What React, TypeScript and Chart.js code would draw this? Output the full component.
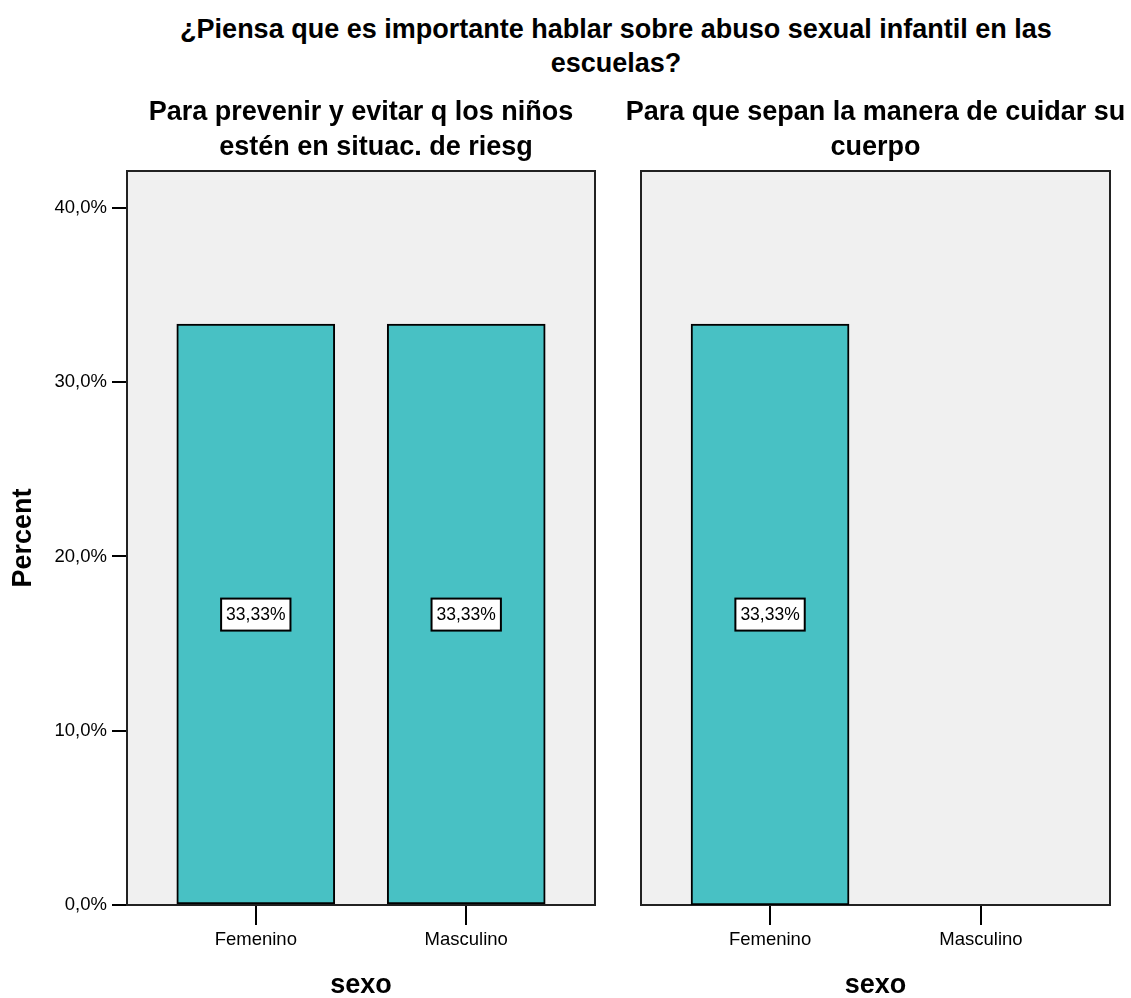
import React, { useEffect, useRef } from 'react';
import { Chart, registerables } from 'chart.js';

Chart.register(...registerables);

// ---- data ----
const mainTitle = ['¿Piensa que es importante hablar sobre abuso sexual infantil en las', 'escuelas?'];
const categories = ['Femenino', 'Masculino'];
const panel1Title = ['Para prevenir y evitar q los niños', '    estén en situac. de riesg'];
const panel2Title = ['Para que sepan la manera de cuidar su', 'cuerpo'];
const panel1Values: (number | null)[] = [33.33, 33.33];
const panel2Values: (number | null)[] = [33.33, null];
const yTicks = [0, 10, 20, 30, 40];
const yAxisTitle = 'Percent';
const xAxisTitle = 'sexo';

const BOLD = "'Liberation Sans', Arial, sans-serif";
const REG = "'Liberation Sans', Arial, sans-serif";
const BAR_COLOR = '#48C1C4';
const PANEL_BG = '#F0F0F0';
const PANEL_BORDER = '#222222';

const fmtPct = (v: number, d: number) => v.toFixed(d).replace('.', ',') + '%';

const panelPlugin = {
  id: 'panelBg',
  beforeDraw(chart: any) {
    const { ctx, chartArea: a } = chart;
    ctx.save();
    ctx.fillStyle = PANEL_BG;
    ctx.fillRect(a.left, a.top, a.right - a.left, a.bottom - a.top);
    ctx.restore();
  },
  beforeDatasetsDraw(chart: any) {
    const { ctx, chartArea: a } = chart;
    ctx.save();
    ctx.strokeStyle = PANEL_BORDER;
    ctx.lineWidth = 2;
    ctx.strokeRect(a.left, a.top, a.right - a.left, a.bottom - a.top);
    ctx.restore();
  },
};

const valueLabelPlugin = {
  id: 'valueLabels',
  afterDatasetsDraw(chart: any) {
    const { ctx } = chart;
    const yScale = chart.scales.y;
    chart.data.datasets.forEach((ds: any, di: number) => {
      const meta = chart.getDatasetMeta(di);
      meta.data.forEach((el: any, i: number) => {
        const raw = ds.data[i];
        const v = raw && raw.y;
        if (v == null) return;
        const text = fmtPct(v, 2);
        ctx.save();
        ctx.font = `17.5px ${REG}`;
        const w = ctx.measureText(text).width;
        const bw = w + 10;
        const bh = 32;
        const cx = el.x;
        const cy = yScale.getPixelForValue(v / 2);
        ctx.fillStyle = '#ffffff';
        ctx.fillRect(cx - bw / 2, cy - bh / 2, bw, bh);
        ctx.strokeStyle = '#000000';
        ctx.lineWidth = 2;
        ctx.strokeRect(cx - bw / 2, cy - bh / 2, bw, bh);
        ctx.fillStyle = '#000000';
        ctx.textAlign = 'center';
        ctx.textBaseline = 'middle';
        ctx.fillText(text, cx, cy + 1);
        ctx.restore();
      });
    });
  },
};

type PanelProps = {
  values: (number | null)[];
  title: string[];
  showY: boolean;
  left: number;
  width: number;
  leftAxisWidth: number;
  rightAxisWidth: number;
};

function Panel({ values, title, showY, left, width, leftAxisWidth, rightAxisWidth }: PanelProps) {
  const ref = useRef<HTMLCanvasElement>(null);
  useEffect(() => {
    if (!ref.current) return;
    const chart = new Chart(ref.current, {
      type: 'bar',
      data: {
        datasets: [
          {
            data: values.map((v, i) => ({ x: i, y: v })) as any,
            backgroundColor: BAR_COLOR,
            borderColor: '#000000',
            borderWidth: 2,
            borderSkipped: false,
            barThickness: 158,
            xAxisID: 'x',
            yAxisID: 'y',
          },
        ],
      },
      options: {
        animation: false,
        responsive: false,
        maintainAspectRatio: false,
        layout: { padding: 0 },
        plugins: {
          legend: { display: false },
          tooltip: { enabled: false },
          title: {
            display: true,
            text: title,
            color: '#000',
            font: { family: BOLD, size: 27, weight: 'bold', lineHeight: 35 / 27 },
            padding: { top: 94.8, bottom: 6.2 },
          },
        },
        scales: {
          x: {
            type: 'linear',
            position: 'bottom',
            min: -0.612,
            max: 1.612,
            offset: false,
            afterBuildTicks: (s: any) => {
              s.ticks = categories.map((_, i) => ({ value: i }));
            },
            afterFit: (s: any) => {
              s.height = 93;
            },
            ticks: {
              callback: (v: any) => categories[v] ?? '',
              color: '#000',
              font: { family: REG, size: 18.5 },
              padding: 4,
              autoSkip: false,
              maxRotation: 0,
              minRotation: 0,
            },
            grid: {
              offset: false,
              drawOnChartArea: false,
              drawTicks: true,
              tickLength: 20,
              color: '#000',
              lineWidth: 2,
            },
            border: { display: false },
            title: {
              display: true,
              text: xAxisTitle,
              color: '#000',
              font: { family: BOLD, size: 27, weight: 'bold', lineHeight: 1 },
              padding: { top: 0, bottom: -1 },
            },
          },
          y: {
            type: 'linear',
            position: 'left',
            min: 0,
            max: 42.12,
            afterBuildTicks: (s: any) => {
              s.ticks = yTicks.map((v) => ({ value: v }));
            },
            afterFit: (s: any) => {
              s.width = leftAxisWidth;
            },
            ticks: {
              display: showY,
              callback: (v: any) => fmtPct(Number(v), 1),
              color: '#000',
              font: { family: REG, size: 18.5 },
              padding: 5,
            },
            grid: {
              display: showY,
              drawOnChartArea: false,
              drawTicks: true,
              tickLength: 15,
              color: '#000',
              lineWidth: 2,
            },
            border: { display: false },
            title: {
              display: showY,
              text: yAxisTitle,
              color: '#000',
              font: { family: BOLD, size: 27, weight: 'bold', lineHeight: 1.2 },
              padding: { top: 7, bottom: 0 },
            },
          },
          yR: {
            type: 'linear',
            position: 'right',
            afterFit: (s: any) => {
              s.width = rightAxisWidth;
            },
            ticks: { display: false },
            grid: { display: false },
            border: { display: false },
          },
        },
      } as any,
      plugins: [panelPlugin, valueLabelPlugin],
    });
    return () => chart.destroy();
  }, []);
  return (
    <canvas
      ref={ref}
      width={width}
      height={998}
      style={{ position: 'absolute', left, top: 0, width, height: 998, display: 'block' }}
    />
  );
}

export default function App() {
  return (
    <div style={{ position: 'absolute', left: 0, top: 0, width: 1131, height: 998, background: '#fff', overflow: 'hidden' }}>
      <div
        style={{
          position: 'absolute',
          left: 101,
          top: 12,
          width: 1030,
          textAlign: 'center',
          fontFamily: BOLD,
          fontWeight: 'bold',
          fontSize: 27,
          lineHeight: '34px',
          color: '#000',
          whiteSpace: 'nowrap',
        }}
      >
        {mainTitle[0]}
        <br />
        {mainTitle[1]}
      </div>
      <Panel values={panel1Values} title={panel1Title} showY={true} left={0} width={722} leftAxisWidth={127} rightAxisWidth={127} />
      <Panel values={panel2Values} title={panel2Title} showY={false} left={620} width={511} leftAxisWidth={21} rightAxisWidth={21} />
    </div>
  );
}
